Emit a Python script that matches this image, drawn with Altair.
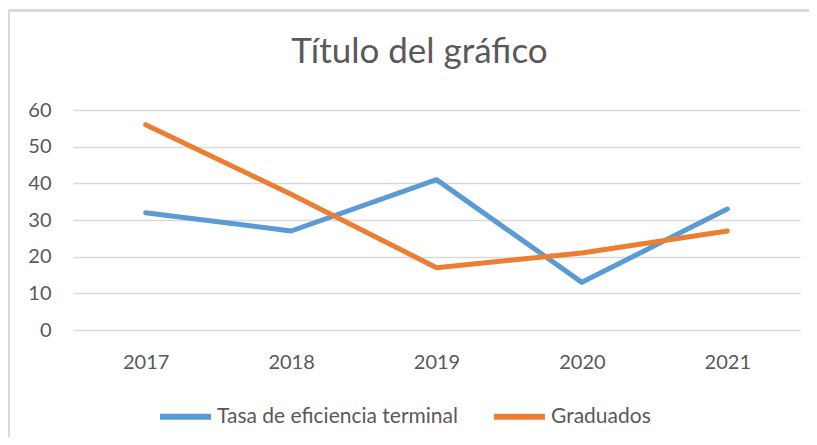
import altair as alt
import pandas as pd

years = ["2017", "2018", "2019", "2020", "2021"]
tasa = [32, 27, 41, 13, 33]
graduados = [56, 37, 17, 21, 27]
series_names = ["Tasa de eficiencia terminal", "Graduados"]
colors = ["#5B9BD5", "#ED7D31"]
y_ticks = [0, 10, 20, 30, 40, 50, 60]

rows = []
for name, vals in zip(series_names, [tasa, graduados]):
    for yr, v in zip(years, vals):
        rows.append({"year": yr, "value": v, "series": name})
df = pd.DataFrame(rows)

FONT = "Lato"
TXT = "#595959"
W, H = 727, 220

lines = alt.Chart(df).mark_line(strokeWidth=5, strokeCap="round", strokeJoin="round").encode(
    x=alt.X("year:O", sort=years, scale=alt.Scale(type="point", padding=0.5),
            axis=alt.Axis(title=None, labelAngle=0, ticks=False, domain=False,
                          labelBaseline="alphabetic", labelPadding=38,
                          labelFontSize=20, labelColor=TXT, labelFont=FONT, grid=False)),
    y=alt.Y("value:Q", scale=alt.Scale(domain=[0, 60], nice=False),
            axis=alt.Axis(title=None, values=y_ticks, ticks=False, domain=False,
                          labelPadding=22, labelFontSize=20, labelColor=TXT, labelFont=FONT,
                          gridColor="#D9D9D9", gridWidth=1.5)),
    color=alt.Color("series:N", sort=series_names,
                    scale=alt.Scale(domain=series_names, range=colors),
                    legend=alt.Legend(title=None, orient="none", direction="horizontal",
                                      legendX=84, legendY=278, padding=0,
                                      symbolType="stroke", symbolSize=2601, symbolStrokeWidth=6,
                                      labelFontSize=21, labelColor=TXT, labelFont=FONT,
                                      labelLimit=500, labelOffset=3, columnPadding=24)),
    order=alt.Order("series:N"),
)

border_top = alt.Chart(df).mark_rule(color="#D9D9D9", strokeWidth=2).encode(
    x=alt.value(-64), x2=alt.value(W + 20), y=alt.value(-99.5)
)
border_left = alt.Chart(df).mark_rule(color="#D9D9D9", strokeWidth=2).encode(
    x=alt.value(-64), y=alt.value(-100), y2=alt.value(H + 120)
)

chart = alt.layer(border_top, border_left, lines).properties(
    width=W, height=H,
    autosize=alt.AutoSizeParams(type="none"),
    padding={"left": 65, "top": 102, "right": 9, "bottom": 107},
    title=alt.TitleParams("Título del gráfico", fontSize=35, font=FONT, color=TXT,
                          fontWeight="normal", anchor="middle", baseline="alphabetic",
                          offset=-89, dx=-17),
).configure_view(stroke=None)

chart.save("out.html", embed_options={"renderer": "svg", "actions": False})
